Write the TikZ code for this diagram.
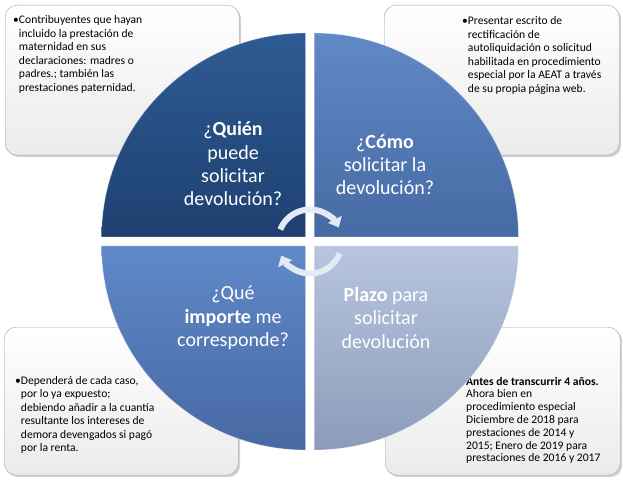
\documentclass[tikz,border=0pt]{standalone}
\usepackage{fontspec}
\setmainfont{Carlito}
\usetikzlibrary{arrows.meta,shadows,calc}
\definecolor{boxline}{HTML}{8FA3C4}
\definecolor{boxfill}{HTML}{EBEBEB}
\definecolor{tlA}{HTML}{2E5B94}\definecolor{tlB}{HTML}{1E406F}
\definecolor{trA}{HTML}{6189C6}\definecolor{trB}{HTML}{466AA3}
\definecolor{blA}{HTML}{6088C8}\definecolor{blB}{HTML}{4769A3}
\definecolor{brA}{HTML}{B7C5E0}\definecolor{brB}{HTML}{8C9BB9}
\definecolor{cyccol}{HTML}{E4EAF3}

\begin{document}
\begin{tikzpicture}[x=1pt,y=1pt,
infobox/.style={draw=boxline,rounded corners=12pt,top color=white,bottom color=boxfill,inner sep=0pt,anchor=north west,
  drop shadow={shadow xshift=2pt,shadow yshift=-2pt,opacity=0.35}},
infotext/.style={anchor=base west,inner sep=0pt,font=\fontsize{11.6}{13.5}\selectfont},
quad/.style={draw=white,draw opacity=0.35,line width=0.8pt},
qtext/.style={align=center,text=white,font=\fontsize{20}{23.3}\selectfont},
cyc/.style={line width=6pt,cyccol,-{Triangle[length=9pt,width=15pt]}}]
\useasboundingbox (0,0) rectangle (623,485);
\coordinate (c) at (310,243.5);
% info boxes
\node[infobox,minimum width=234pt,minimum height=150pt] (quienbox) at (5,480) {};
\node[infobox,minimum width=235pt,minimum height=150pt] (comobox) at (384,480) {};
\node[infobox,minimum width=234pt,minimum height=148pt] (quebox) at (4,158) {};
\node[infobox,minimum width=235pt,minimum height=148pt] (plazobox) at (385,158) {};
\node[infotext] (quientxt) at (13,461) {\textbullet\begin{tabular}[t]{@{}l@{}}Contribuyentes que hayan\\incluido la prestación de\\maternidad en sus\\declaraciones: madres o\\padres.; también las\\prestaciones paternidad.\end{tabular}};
\node[infotext] (comotxt) at (462,460) {\textbullet\begin{tabular}[t]{@{}l@{}}Presentar escrito de\\rectificación de\\autoliquidación o solicitud\\habilitada en procedimiento\\especial por la AEAT a través\\de su propia página web.\end{tabular}};
\node[infotext] (quetxt) at (15,101) {\textbullet\begin{tabular}[t]{@{}l@{}}Dependerá de cada caso,\\por lo ya expuesto;\\debiendo añadir a la cuantía\\resultante los intereses de\\demora devengados si pagó\\por la renta.\end{tabular}};
\node[infotext,font=\fontsize{11.6}{12.8}\selectfont] (plazotxt) at (466,100) {\begin{tabular}[t]{@{}l@{}}\textbf{Antes de transcurrir 4 años.}\\Ahora bien en\\procedimiento especial\\Diciembre de 2018 para\\prestaciones de 2014 y\\2015; Enero de 2019 para\\prestaciones de 2016 y 2017\end{tabular}};
% circle quarters
\path[quad,top color=tlA,bottom color=tlB] ($(c)+(-4.5,4.5)$) -- ++(90:204) arc[start angle=90,end angle=180,radius=204] -- cycle;
\path[quad,top color=trA,bottom color=trB] ($(c)+(4.5,4.5)$) -- ++(0:204) arc[start angle=0,end angle=90,radius=204] -- cycle;
\path[quad,top color=blA,bottom color=blB] ($(c)+(-4.5,-4.5)$) -- ++(180:204) arc[start angle=180,end angle=270,radius=204] -- cycle;
\path[quad,top color=brA,bottom color=brB] ($(c)+(4.5,-4.5)$) -- ++(270:204) arc[start angle=270,end angle=360,radius=204] -- cycle;
\node[qtext] (quien) at (233,321) {¿\textbf{Quién}\\puede\\solicitar\\devolución?};
\node[qtext] (como) at (385,320.5) {¿\textbf{Cómo}\\solicitar la\\devolución?};
\node[qtext] (que) at (233,167) {¿Qué\\\textbf{importe} me\\corresponde?};
\node[qtext] (plazo) at (386,167) {\textbf{Plazo} para\\solicitar\\devolución};
% cycle arrows
\draw[cyc] ($(c)+(158:32)$) arc[start angle=158,end angle=26,radius=32];
\draw[cyc] ($(c)+(-22:32)$) arc[start angle=-22,end angle=-154,radius=32];
\end{tikzpicture}
\end{document}
